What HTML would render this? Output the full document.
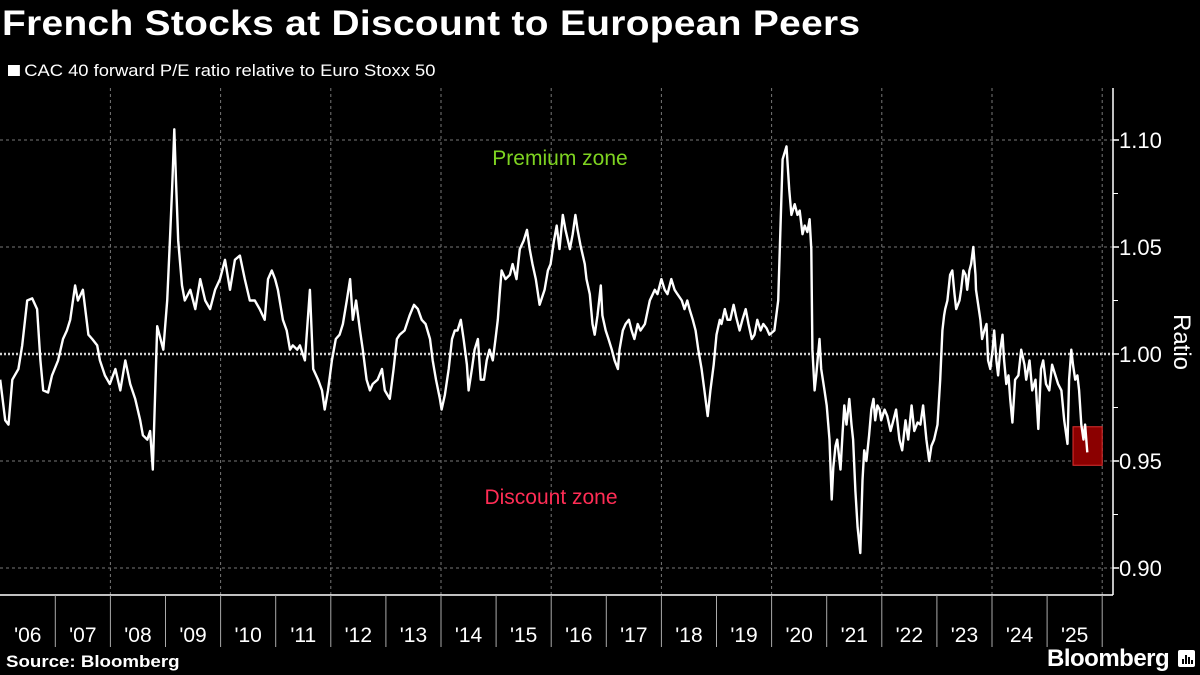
<!DOCTYPE html>
<html><head><meta charset="utf-8">
<style>
html,body{margin:0;padding:0;background:#000;}
body{width:1200px;height:675px;overflow:hidden;position:relative;font-family:"Liberation Sans","DejaVu Sans",sans-serif;color:#fff;}
#title{position:absolute;left:2px;top:4px;font-size:35px;font-weight:bold;letter-spacing:0.3px;white-space:nowrap;transform:scaleX(1.11);transform-origin:0 0;}
#subtitle{position:absolute;left:8px;top:61px;font-size:17px;white-space:nowrap;transform:scaleX(1.08);transform-origin:0 0;}
#subtitle span.sq{display:inline-block;width:11px;height:11px;background:#fff;margin-right:4px;vertical-align:0px;}
#source{position:absolute;left:6px;top:652px;font-size:17px;font-weight:bold;transform:scaleX(1.1);transform-origin:0 0;}
#brand{position:absolute;left:1047px;top:645px;font-size:24px;font-weight:bold;letter-spacing:-0.5px;}
svg{position:absolute;left:0;top:0;}
</style></head><body>
<div id="title">French Stocks at Discount to European Peers</div>
<div id="subtitle"><span class="sq"></span>CAC 40 forward P/E ratio relative to Euro Stoxx 50</div>
<div id="source">Source: Bloomberg</div>
<div id="brand">Bloomberg</div>
<svg id="chart" width="1200" height="675"></svg>
<script>
const dates=[2006.00,2006.09,2006.15,2006.22,2006.33,2006.40,2006.49,2006.58,2006.67,2006.73,2006.78,2006.87,2006.94,2007.05,2007.14,2007.21,2007.27,2007.36,2007.41,2007.50,2007.60,2007.67,2007.76,2007.81,2007.90,2007.99,2008.09,2008.18,2008.27,2008.36,2008.45,2008.54,2008.59,2008.67,2008.72,2008.77,2008.85,2008.96,2009.03,2009.08,2009.12,2009.16,2009.19,2009.23,2009.30,2009.35,2009.45,2009.54,2009.63,2009.72,2009.81,2009.90,2009.99,2010.08,2010.17,2010.26,2010.35,2010.44,2010.53,2010.62,2010.71,2010.80,2010.86,2010.93,2010.99,2011.04,2011.13,2011.20,2011.26,2011.31,2011.39,2011.44,2011.53,2011.62,2011.68,2011.77,2011.84,2011.89,2011.95,2012.02,2012.09,2012.16,2012.22,2012.29,2012.35,2012.40,2012.46,2012.53,2012.58,2012.65,2012.71,2012.76,2012.85,2012.93,2012.98,2013.07,2013.14,2013.20,2013.25,2013.34,2013.43,2013.51,2013.58,2013.65,2013.72,2013.80,2013.85,2013.91,2013.98,2014.01,2014.07,2014.14,2014.20,2014.25,2014.30,2014.36,2014.41,2014.47,2014.50,2014.56,2014.61,2014.67,2014.72,2014.78,2014.83,2014.88,2014.94,2014.99,2015.03,2015.07,2015.10,2015.17,2015.25,2015.30,2015.37,2015.43,2015.50,2015.56,2015.61,2015.66,2015.72,2015.79,2015.88,2015.94,2015.99,2016.05,2016.10,2016.15,2016.21,2016.26,2016.34,2016.39,2016.44,2016.48,2016.53,2016.61,2016.64,2016.70,2016.75,2016.79,2016.84,2016.90,2016.93,2016.99,2017.04,2017.10,2017.15,2017.21,2017.24,2017.30,2017.35,2017.41,2017.46,2017.51,2017.57,2017.62,2017.70,2017.79,2017.88,2017.93,2018.00,2018.06,2018.11,2018.18,2018.24,2018.29,2018.37,2018.42,2018.47,2018.51,2018.57,2018.62,2018.67,2018.73,2018.78,2018.84,2018.89,2018.95,2019.00,2019.06,2019.09,2019.15,2019.20,2019.25,2019.31,2019.36,2019.42,2019.47,2019.53,2019.58,2019.64,2019.69,2019.74,2019.80,2019.85,2019.91,2019.96,2020.05,2020.12,2020.20,2020.27,2020.32,2020.36,2020.42,2020.47,2020.51,2020.56,2020.60,2020.65,2020.69,2020.72,2020.74,2020.78,2020.81,2020.87,2020.90,2020.96,2021.00,2021.05,2021.09,2021.12,2021.16,2021.19,2021.25,2021.29,2021.32,2021.36,2021.41,2021.45,2021.48,2021.52,2021.56,2021.61,2021.65,2021.68,2021.72,2021.77,2021.81,2021.85,2021.88,2021.92,2021.96,2021.99,2022.05,2022.10,2022.16,2022.21,2022.26,2022.32,2022.37,2022.43,2022.48,2022.54,2022.59,2022.65,2022.70,2022.75,2022.81,2022.86,2022.90,2022.95,2023.01,2023.06,2023.10,2023.13,2023.15,2023.19,2023.24,2023.28,2023.32,2023.35,2023.41,2023.44,2023.48,2023.52,2023.55,2023.59,2023.62,2023.66,2023.70,2023.71,2023.75,2023.79,2023.82,2023.86,2023.90,2023.93,2023.97,2024.01,2024.04,2024.08,2024.11,2024.15,2024.19,2024.22,2024.26,2024.30,2024.33,2024.37,2024.42,2024.48,2024.53,2024.59,2024.62,2024.68,2024.73,2024.79,2024.84,2024.89,2024.93,2024.98,2025.04,2025.09,2025.15,2025.20,2025.26,2025.31,2025.37,2025.40,2025.44,2025.47,2025.51,2025.55,2025.58,2025.62,2025.66,2025.69,2025.73,2025.76];
const values=[0.988,0.969,0.967,0.988,0.993,1.004,1.025,1.026,1.021,0.997,0.983,0.982,0.990,0.997,1.007,1.011,1.016,1.032,1.025,1.030,1.009,1.007,1.004,0.997,0.990,0.986,0.993,0.983,0.997,0.986,0.979,0.969,0.962,0.960,0.964,0.946,1.013,1.002,1.025,1.053,1.077,1.105,1.081,1.053,1.032,1.025,1.030,1.021,1.035,1.025,1.021,1.030,1.035,1.044,1.030,1.044,1.046,1.035,1.025,1.025,1.021,1.016,1.035,1.039,1.035,1.030,1.016,1.011,1.002,1.004,1.002,1.004,0.997,1.030,0.993,0.988,0.983,0.974,0.983,0.997,1.007,1.009,1.014,1.025,1.035,1.016,1.025,1.011,1.002,0.988,0.983,0.986,0.988,0.993,0.983,0.979,0.993,1.007,1.009,1.011,1.018,1.023,1.021,1.016,1.014,1.007,0.997,0.988,0.979,0.974,0.981,0.993,1.007,1.011,1.011,1.016,1.007,0.995,0.983,0.993,1.002,1.007,0.988,0.988,0.997,1.002,0.997,1.007,1.016,1.030,1.039,1.035,1.037,1.042,1.035,1.049,1.053,1.058,1.049,1.042,1.035,1.023,1.030,1.039,1.042,1.053,1.060,1.049,1.065,1.058,1.049,1.056,1.065,1.058,1.051,1.042,1.035,1.028,1.014,1.009,1.018,1.032,1.018,1.011,1.007,1.002,0.997,0.993,1.002,1.011,1.014,1.016,1.011,1.007,1.014,1.011,1.014,1.025,1.030,1.028,1.035,1.030,1.028,1.035,1.030,1.028,1.025,1.021,1.025,1.021,1.016,1.011,1.002,0.993,0.983,0.971,0.983,0.995,1.009,1.016,1.014,1.021,1.016,1.016,1.023,1.017,1.011,1.016,1.021,1.014,1.007,1.009,1.016,1.011,1.014,1.012,1.009,1.011,1.025,1.091,1.097,1.077,1.065,1.070,1.065,1.067,1.056,1.060,1.057,1.063,1.049,1.002,0.983,0.990,1.007,0.993,0.983,0.976,0.960,0.932,0.947,0.957,0.960,0.946,0.964,0.976,0.967,0.979,0.967,0.960,0.936,0.919,0.907,0.941,0.955,0.950,0.962,0.974,0.979,0.969,0.976,0.974,0.969,0.974,0.971,0.964,0.969,0.974,0.960,0.955,0.969,0.960,0.976,0.964,0.968,0.967,0.976,0.960,0.950,0.957,0.960,0.967,0.988,1.011,1.018,1.021,1.025,1.037,1.039,1.028,1.021,1.025,1.030,1.039,1.037,1.030,1.039,1.042,1.050,1.037,1.030,1.023,1.016,1.007,1.011,1.014,0.997,0.993,1.002,1.011,0.997,0.990,1.002,1.009,0.997,0.986,0.990,0.979,0.968,0.988,0.990,1.002,0.995,0.988,0.997,0.983,0.988,0.965,0.993,0.997,0.986,0.983,0.995,0.990,0.986,0.983,0.969,0.958,0.988,1.002,0.995,0.988,0.990,0.983,0.967,0.960,0.967,0.954];
const yTicks=[0.90,0.95,1.00,1.05,1.10];
const yTickLabels=["0.90","0.95","1.00","1.05","1.10"];
const yearLabels=["'06","'07","'08","'09","'10","'11","'12","'13","'14","'15","'16","'17","'18","'19","'20","'21","'22","'23","'24","'25"];
const firstYear=2006;
const highlightStart=2025.47, highlightEnd=2026.0, highlightLow=0.948, highlightHigh=0.966;

const NS="http://www.w3.org/2000/svg";
const svg=document.getElementById('chart');
const X0=0.2, PX_PER_YEAR=55.1, AXIS_X=1113, TOP=88, BOTTOM=595;
function xs(t){return X0+(t-firstYear)*PX_PER_YEAR;}
function ys(v){return 354-(v-1)*2140;}
function mk(tag,attrs){const e=document.createElementNS(NS,tag);for(const k in attrs)e.setAttribute(k,attrs[k]);svg.appendChild(e);return e;}

yTicks.forEach((v,i)=>{
  const isOne=Math.abs(v-1)<1e-9;
  const g=mk('line',{x1:0,x2:AXIS_X,y1:ys(v),y2:ys(v),stroke:isOne?'#cfcfcf':'#777','stroke-width':isOne?2.5:1,'stroke-dasharray':isOne?'2,2':'3,3'});
  
  
  const t=mk('line',{x1:AXIS_X,x2:AXIS_X+6,y1:ys(v),y2:ys(v),stroke:'#fff','stroke-width':1.5});
  
  
  const lb=mk('text',{x:AXIS_X+6,y:ys(v)+8,fill:'#fff','font-size':22,'font-family':'Liberation Sans, sans-serif'});
  lb.textContent=yTickLabels[i];
  
  
  if(i<yTicks.length-1){
    const mv=(v+yTicks[i+1])/2;
    const m=mk('line',{x1:AXIS_X,x2:AXIS_X+5,y1:ys(mv),y2:ys(mv),stroke:'#fff','stroke-width':1});
    
    
  }
});
for(let k=2;k<=20;k+=2){
  const x=xs(firstYear+k);
  const g=mk('line',{x1:x,x2:x,y1:TOP,y2:BOTTOM,stroke:'#777','stroke-width':1,'stroke-dasharray':'3,3'});
  
  
}
const ax=mk('line',{x1:AXIS_X,x2:AXIS_X,y1:TOP,y2:BOTTOM,stroke:'#fff','stroke-width':1.5});


const bx=mk('line',{x1:0,x2:AXIS_X,y1:BOTTOM,y2:BOTTOM,stroke:'#fff','stroke-width':1.5});


yearLabels.forEach((lab,i)=>{
  const x1=xs(firstYear+i+1);
  const s=mk('line',{x1:x1,x2:x1,y1:BOTTOM,y2:647,stroke:'#aaa','stroke-width':1});
  
  
  const t=mk('text',{x:xs(firstYear+i+0.5),y:642,fill:'#fff','font-size':21,'text-anchor':'middle','font-family':'Liberation Sans, sans-serif'});
  t.textContent=lab;
  
  
});
const pz=mk('text',{x:560,y:165,fill:'#7ed321','font-size':21,'text-anchor':'middle','font-family':'Liberation Sans, sans-serif'});
pz.textContent='Premium zone';


const dz=mk('text',{x:551,y:504,fill:'#ff2d55','font-size':21,'text-anchor':'middle','font-family':'Liberation Sans, sans-serif'});
dz.textContent='Discount zone';


const hb=mk('rect',{x:xs(highlightStart),y:ys(highlightHigh),width:xs(highlightEnd)-xs(highlightStart),height:ys(highlightLow)-ys(highlightHigh),fill:'#8b0000',stroke:'#e03030','stroke-width':1});


let d='';
dates.forEach((t,i)=>{d+=(i?'L':'M')+xs(t).toFixed(1)+','+ys(values[i]).toFixed(1);});
const ln=mk('path',{d:d,fill:'none',stroke:'#fff','stroke-width':2.4,'stroke-linejoin':'round'});


const yt=mk('text',{x:0,y:0,fill:'#fff','font-size':24,'text-anchor':'middle','font-family':'Liberation Sans, sans-serif',transform:'translate(1174,342) rotate(90)'});
yt.textContent='Ratio';


const ic=mk('rect',{x:1178,y:650,width:17,height:17,rx:2,fill:'#fff'});


[[1182,659,2,5],[1185,655,2,9],[1188,657,2,7],[1191,660,2,4]].forEach(b=>{
  const r=mk('rect',{x:b[0],y:b[1],width:b[2],height:b[3],fill:'#000'});
  
  
});
</script>
</body></html>
